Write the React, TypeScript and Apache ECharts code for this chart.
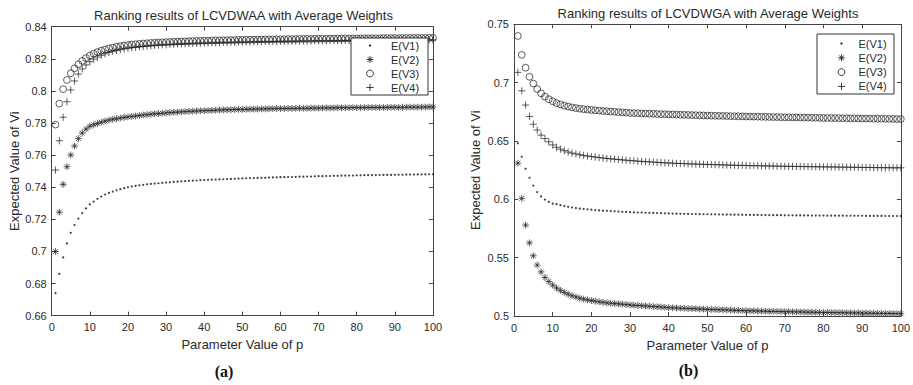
import React, { useEffect, useRef } from "react";
import * as echarts from "echarts";

// Parameter values p = 1..100
const P: number[] = Array.from({ length: 100 }, (_, i) => i + 1);

const seriesNames = ["E(V1)", "E(V2)", "E(V3)", "E(V4)"];

// (a) LCVDWAA
const aV1 = [
  .674, .686, .6963, .705, .7116, .7165, .7204, .7239, .7268, .7293, .7311, .7328, .7342, .7355, .7365, .7373, .7381, .7388, .7394, .74,
  .7404, .7408, .7412, .7415, .7418, .7421, .7423, .7425, .7427, .7429, .7431, .7433, .7435, .7437, .7438, .744, .7441, .7442, .7444, .7445,
  .7446, .7447, .7448, .7449, .745, .7451, .7452, .7453, .7454, .7455, .7456, .7457, .7457, .7458, .7459, .7459, .746, .7461, .7462, .7463,
  .7463, .7464, .7464, .7465, .7466, .7466, .7467, .7467, .7468, .7469, .7469, .747, .747, .7471, .7471, .7472, .7472, .7473, .7473, .7474,
  .7474, .7475, .7475, .7475, .7476, .7476, .7477, .7477, .7477, .7478, .7478, .7478, .7479, .7479, .7479, .748, .748, .748, .7481, .7481,
];
const aV2 = [
  .700, .7245, .7418, .7528, .7601, .7657, .7703, .7738, .7762, .778, .7789, .7797, .7805, .7812, .7818, .7823, .7827, .7831, .7835, .7838,
  .7841, .7844, .7847, .785, .7852, .7855, .7857, .7859, .7861, .7863, .7865, .7867, .7868, .787, .7871, .7873, .7874, .7875, .7876, .7877,
  .7878, .7879, .788, .7881, .7882, .7882, .7883, .7884, .7885, .7885, .7886, .7886, .7887, .7887, .7888, .7888, .7889, .7889, .789, .789,
  .789, .7891, .7891, .7891, .7892, .7892, .7892, .7893, .7893, .7893, .7894, .7894, .7894, .7894, .7895, .7895, .7895, .7895, .7896, .7896,
  .7896, .7896, .7897, .7897, .7897, .7897, .7897, .7898, .7898, .7898, .7898, .7898, .7899, .7899, .7899, .7899, .7899, .79, .79, .79,
];
const aV3 = [
  .779, .7921, .8011, .8068, .811, .8141, .8166, .8187, .8205, .822, .8232, .8242, .8251, .8258, .8265, .827, .8275, .8279, .8283, .8286,
  .8289, .8291, .8293, .8295, .8297, .8299, .83, .8302, .8303, .8304, .8305, .8306, .8307, .8308, .8309, .831, .8311, .8311, .8312, .8313,
  .8313, .8314, .8315, .8315, .8316, .8316, .8317, .8317, .8318, .8318, .8319, .8319, .8319, .832, .832, .8321, .8321, .8321, .8322, .8322,
  .8322, .8323, .8323, .8323, .8324, .8324, .8324, .8324, .8325, .8325, .8325, .8325, .8326, .8326, .8326, .8326, .8327, .8327, .8327, .8327,
  .8327, .8328, .8328, .8328, .8328, .8328, .8329, .8329, .8329, .8329, .8329, .8329, .833, .833, .833, .833, .833, .833, .833, .8331,
];
const aV4 = [
  .7507, .769, .7836, .7933, .8006, .8062, .8105, .8137, .8162, .8182, .8198, .8211, .8222, .8231, .8239, .8246, .8252, .8257, .8262, .8266,
  .8269, .8272, .8275, .8277, .828, .8282, .8284, .8285, .8287, .8288, .829, .8291, .8292, .8293, .8294, .8295, .8296, .8297, .8297, .8298,
  .8299, .83, .83, .8301, .8302, .8302, .8303, .8303, .8304, .8304, .8305, .8305, .8306, .8306, .8307, .8307, .8307, .8308, .8308, .8309,
  .8309, .8309, .831, .831, .831, .8311, .8311, .8311, .8312, .8312, .8312, .8312, .8313, .8313, .8313, .8313, .8314, .8314, .8314, .8314,
  .8315, .8315, .8315, .8315, .8315, .8316, .8316, .8316, .8316, .8316, .8317, .8317, .8317, .8317, .8317, .8317, .8318, .8318, .8318, .8318,
];

// (b) LCVDWGA
const bV1 = [
  .648, .6365, .6262, .6185, .6118, .6062, .6025, .5998, .5978, .5963, .5958, .595, .5942, .5936, .593, .5925, .5921, .5917, .5914, .5911,
  .5908, .5905, .5903, .5901, .5899, .5897, .5895, .5893, .5892, .589, .5889, .5887, .5886, .5885, .5884, .5883, .5882, .5881, .588, .5879,
  .5878, .5877, .5876, .5876, .5875, .5874, .5874, .5873, .5872, .5872, .5871, .5871, .587, .587, .5869, .5869, .5868, .5868, .5867, .5867,
  .5866, .5866, .5866, .5865, .5865, .5865, .5864, .5864, .5864, .5863, .5863, .5863, .5862, .5862, .5862, .5862, .5861, .5861, .5861, .5861,
  .586, .586, .586, .586, .586, .5859, .5859, .5859, .5859, .5859, .5858, .5858, .5858, .5858, .5858, .5857, .5857, .5857, .5857, .5857,
];
const bV2 = [
  .631, .6008, .5779, .5627, .5516, .5436, .5378, .533, .5295, .5265, .524, .522, .5202, .5187, .5174, .5163, .5153, .5145, .5138, .5132,
  .5127, .5122, .5117, .5113, .511, .5107, .5104, .5101, .5098, .5095, .5092, .509, .5088, .5086, .5084, .5081, .5079, .5077, .5075, .5072,
  .507, .5069, .5067, .5066, .5064, .5063, .5062, .506, .5059, .5057, .5056, .5055, .5054, .5053, .5052, .5051, .5049, .5048, .5047, .5045,
  .5044, .5044, .5043, .5042, .5041, .504, .504, .5039, .5038, .5037, .5037, .5036, .5035, .5035, .5034, .5033, .5033, .5032, .5031, .503,
  .503, .5029, .5029, .5028, .5028, .5027, .5027, .5026, .5026, .5025, .5025, .5024, .5024, .5023, .5023, .5022, .5022, .5021, .5021, .502,
];
const bV3 = [
  .74, .7238, .7128, .705, .6992, .6945, .6908, .688, .6858, .684, .6825, .6813, .6803, .6795, .6788, .6782, .6777, .6773, .6769, .6766,
  .6763, .676, .6757, .6755, .6752, .675, .6747, .6745, .6743, .674, .6739, .6738, .6736, .6735, .6734, .6733, .6731, .673, .6729, .6728,
  .6727, .6726, .6725, .6724, .6723, .6722, .6721, .672, .6719, .6718, .6717, .6716, .6715, .6715, .6714, .6713, .6712, .6712, .6711, .671,
  .6709, .6709, .6708, .6707, .6707, .6706, .6705, .6705, .6704, .6703, .6703, .6702, .6702, .6701, .6701, .67, .6699, .6699, .6698, .6697,
  .6697, .6697, .6696, .6696, .6695, .6695, .6694, .6694, .6693, .6692, .6692, .6692, .6691, .6691, .669, .669, .6689, .6689, .6688, .6688,
];
const bV4 = [
  .7088, .693, .6808, .671, .6643, .6594, .655, .652, .6493, .6466, .6446, .643, .6417, .6405, .6396, .6389, .6382, .6376, .6371, .6366,
  .6362, .6358, .6354, .635, .6347, .6344, .6341, .6338, .6335, .6332, .633, .6327, .6325, .6323, .6321, .6319, .6317, .6315, .6313, .6311,
  .631, .6308, .6307, .6306, .6304, .6303, .6302, .6301, .63, .6299, .6298, .6297, .6296, .6295, .6294, .6293, .6292, .6291, .6291, .629,
  .6289, .6288, .6288, .6287, .6286, .6286, .6285, .6284, .6284, .6283, .6283, .6282, .6282, .6281, .6281, .628, .628, .6279, .6279, .6278,
  .6278, .6277, .6277, .6276, .6276, .6275, .6275, .6274, .6274, .6273, .6273, .6273, .6272, .6272, .6271, .6271, .6271, .627, .627, .627,
];

// Marker shapes in a 10x10 box (corner moves keep the box size)
const SYM_DOT = "path://M0,0M10,10M3.9,5A1.1,1.1,0,1,1,6.1,5A1.1,1.1,0,1,1,3.9,5Z";
const SYM_STAR = "path://M0,0M10,10M5,1.6L5,8.4M1.6,5L8.4,5M2.6,2.6L7.4,7.4M2.6,7.4L7.4,2.6";
const SYM_CIRC = "path://M0,0M10,10M8.4,5A3.4,3.4,0,1,1,1.6,5A3.4,3.4,0,1,1,8.4,5Z";
const SYM_PLUS = "path://M0,0M10,10M5,1.4L5,8.6M1.4,5L8.6,5";
const symbols = [SYM_DOT, SYM_STAR, SYM_CIRC, SYM_PLUS];

const FONT = "'Liberation Sans', Arial, Helvetica, sans-serif";
const AXIS_COLOR = "#444";
const TEXT_COLOR = "#2a2a2a";
const MARK_COLOR = "#222";

function makeSeries(values: number[], idx: number, axisIdx: number) {
  const isDot = idx === 0;
  return {
    type: "scatter",
    name: seriesNames[idx],
    xAxisIndex: axisIdx,
    yAxisIndex: axisIdx,
    symbol: symbols[idx],
    symbolSize: 10,
    data: P.map((p, i) => [p, values[i]]),
    itemStyle: isDot
      ? { color: "#111", borderWidth: 0 }
      : { color: "none", borderColor: MARK_COLOR, borderWidth: 0.9 },
    emphasis: { disabled: true },
  };
}

function xAxes(grid: number) {
  const base = {
    gridIndex: grid,
    type: "value",
    min: 0,
    max: 100,
    interval: 10,
    axisLine: { show: true, onZero: false, lineStyle: { color: AXIS_COLOR, width: 1 } },
    axisTick: { show: true, inside: true, length: 4, lineStyle: { color: AXIS_COLOR } },
    splitLine: { show: false },
  };
  return [
    {
      ...base,
      position: "bottom",
      name: "Parameter Value of p",
      nameLocation: "middle",
      nameGap: grid === 0 ? 21 : 23,
      nameTextStyle: { fontSize: 13, color: TEXT_COLOR, fontFamily: FONT },
      axisLabel: { show: true, margin: 6, fontSize: 11, color: TEXT_COLOR, fontFamily: FONT },
    },
    { ...base, position: "top", axisLabel: { show: false } },
  ];
}

function yAxes(grid: number, min: number, max: number, interval: number) {
  const base = {
    gridIndex: grid,
    type: "value",
    min,
    max,
    interval,
    axisLine: { show: true, onZero: false, lineStyle: { color: AXIS_COLOR, width: 1 } },
    axisTick: { show: true, inside: true, length: 4, lineStyle: { color: AXIS_COLOR } },
    splitLine: { show: false },
  };
  return [
    {
      ...base,
      position: "left",
      name: "Expected Value of Vi",
      nameLocation: "middle",
      nameGap: grid === 0 ? 31 : 32,
      nameTextStyle: { fontSize: 13, color: TEXT_COLOR, fontFamily: FONT },
      axisLabel: { show: true, margin: 5, fontSize: 11, color: TEXT_COLOR, fontFamily: FONT },
    },
    { ...base, position: "right", axisLabel: { show: false } },
  ];
}

// Legend drawn as graphic elements (frame, marker, label)
function legendIcon(kind: number, cx: number, cy: number) {
  const line = (x1: number, y1: number, x2: number, y2: number) => ({
    type: "line",
    z: 5,
    silent: true,
    shape: { x1: cx + x1, y1: cy + y1, x2: cx + x2, y2: cy + y2 },
    style: { stroke: MARK_COLOR, lineWidth: 0.9 },
  });
  if (kind === 0) {
    return [{ type: "circle", z: 5, silent: true, shape: { cx, cy, r: 1.1 }, style: { fill: "#111" } }];
  }
  if (kind === 1) {
    return [line(0, -3.4, 0, 3.4), line(-3.4, 0, 3.4, 0), line(-2.4, -2.4, 2.4, 2.4), line(-2.4, 2.4, 2.4, -2.4)];
  }
  if (kind === 2) {
    return [{ type: "circle", z: 5, silent: true, shape: { cx, cy, r: 3.4 }, style: { fill: "none", stroke: MARK_COLOR, lineWidth: 0.9 } }];
  }
  return [line(0, -3.6, 0, 3.6), line(-3.6, 0, 3.6, 0)];
}

function legendBlock(x: number, y: number, w: number, h: number, iconX: number, textX: number, rowY: number[]) {
  const els: any[] = [
    {
      type: "rect",
      z: 4,
      silent: true,
      shape: { x, y, width: w, height: h },
      style: { fill: "#fff", stroke: "#333", lineWidth: 1 },
    },
  ];
  seriesNames.forEach((name, i) => {
    els.push(...legendIcon(i, iconX, rowY[i]));
    els.push({
      type: "text",
      z: 5,
      silent: true,
      x: textX,
      y: rowY[i],
      style: {
        text: name,
        fill: TEXT_COLOR,
        font: `11px ${FONT}`,
        textAlign: "left",
        textVerticalAlign: "middle",
      },
    });
  });
  return els;
}

const serifRich = {
  n: { fontFamily: "'Liberation Serif', 'DejaVu Serif', serif", fontSize: 16, color: "#111" },
  b: { fontFamily: "'Liberation Serif', 'DejaVu Serif', serif", fontSize: 16, fontWeight: "bold", color: "#111" },
};

export default function App() {
  const ref = useRef<HTMLDivElement>(null);
  useEffect(() => {
    if (!ref.current) return;
    const chart = echarts.init(ref.current, undefined, { renderer: "svg" });
    const option = {
      animation: false,
      backgroundColor: "#fff",
      textStyle: { fontFamily: FONT },
      title: [
        {
          text: "Ranking results of LCVDWAA with Average Weights",
          left: 243.5,
          top: 15,
          padding: 0,
          textAlign: "center",
          textVerticalAlign: "middle",
          textStyle: { fontSize: 13, fontWeight: "normal", color: TEXT_COLOR, fontFamily: FONT },
        },
        {
          text: "Ranking results of LCVDWGA with Average Weights",
          left: 708,
          top: 13.3,
          padding: 0,
          textAlign: "center",
          textVerticalAlign: "middle",
          textStyle: { fontSize: 13, fontWeight: "normal", color: TEXT_COLOR, fontFamily: FONT },
        },
        {
          text: "{n|(}{b|a}{n|)}",
          left: 224,
          top: 371.7,
          padding: 0,
          textAlign: "center",
          textVerticalAlign: "middle",
          textStyle: { rich: serifRich },
        },
        {
          text: "{n|(}{b|b}{n|)}",
          left: 688.5,
          top: 370.7,
          padding: 0,
          textAlign: "center",
          textVerticalAlign: "middle",
          textStyle: { rich: serifRich },
        },
      ],
      graphic: {
        elements: [
          ...legendBlock(351, 38, 77, 57, 370, 391, [45.5, 59.5, 73.5, 87.5]),
          ...legendBlock(817, 34, 77, 60, 841.5, 858.5, [43.5, 57.8, 72.1, 86.4]),
        ],
      },
      grid: [
        { left: 51.7, top: 26.7, width: 381.3, height: 289, containLabel: false },
        { left: 514, top: 24.3, width: 388, height: 291.7, containLabel: false },
      ],
      xAxis: [...xAxes(0), ...xAxes(1)],
      yAxis: [...yAxes(0, 0.66, 0.84, 0.02), ...yAxes(1, 0.5, 0.75, 0.05)],
      series: [
        makeSeries(aV1, 0, 0),
        makeSeries(aV2, 1, 0),
        makeSeries(aV3, 2, 0),
        makeSeries(aV4, 3, 0),
        makeSeries(bV1, 0, 2),
        makeSeries(bV2, 1, 2),
        makeSeries(bV3, 2, 2),
        makeSeries(bV4, 3, 2),
      ],
    };
    chart.setOption(option as any);
    return () => chart.dispose();
  }, []);
  return (
    <div
      ref={ref}
      style={{ position: "fixed", left: 0, top: 0, width: 913, height: 385, background: "#fff" }}
    />
  );
}
